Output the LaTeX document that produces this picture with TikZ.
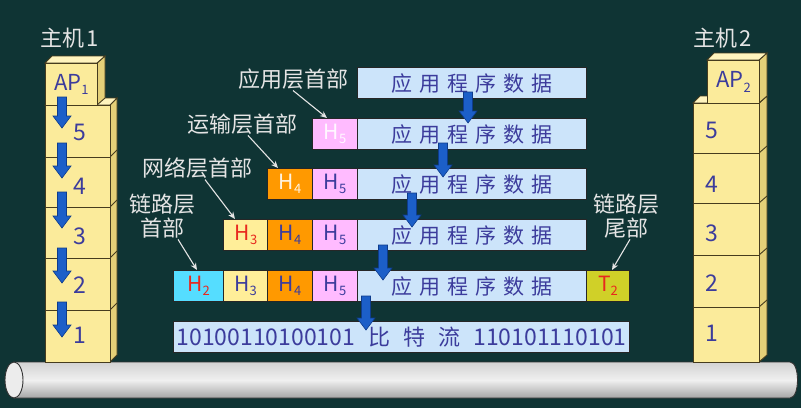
\documentclass[tikz,border=0pt]{standalone}
\usepackage{fontspec}
\setmainfont{Noto Sans CJK SC}
\usetikzlibrary{calc,arrows.meta}
\definecolor{bgc}{RGB}{15,52,52}
\definecolor{labc}{RGB}{228,228,228}
\definecolor{txtc}{RGB}{60,60,156}
\definecolor{datafill}{RGB}{204,228,250}
\definecolor{hfivefill}{RGB}{255,187,255}
\definecolor{hfourfill}{RGB}{255,153,0}
\definecolor{hthreefill}{RGB}{255,238,153}
\definecolor{htwofill}{RGB}{85,221,255}
\definecolor{ttwofill}{RGB}{208,208,40}
\definecolor{stackf}{RGB}{251,235,155}
\definecolor{stacks}{RGB}{228,208,120}
\definecolor{stackt}{RGB}{255,244,190}
\definecolor{stackl}{RGB}{70,60,30}
\definecolor{arrowc}{RGB}{28,95,200}
\definecolor{arrowd}{RGB}{14,60,140}
\definecolor{redt}{RGB}{232,40,30}
\newcommand\fsz[1]{\fontsize{#1pt}{#1pt}\selectfont}
\newcommand\twofont{\fontsize{22pt}{24pt}\selectfont}
\newcommand\lsub[1]{\raisebox{-0.35ex}{\fsz{13}#1}}
\newcommand\appdata{应\hspace{7pt}用\hspace{7pt}程\hspace{7pt}序\hspace{7pt}数\hspace{7pt}据}
\newcommand\bluedown[3]{\filldraw[barrow] (#1-4.5,#2) -- (#1+4.5,#2) -- (#1+4.5,#3-12) -- (#1+9,#3-12) -- (#1,#3) -- (#1-9,#3-12) -- (#1-4.5,#3-12) -- cycle;}
\begin{document}
\begin{tikzpicture}[x=1pt,y=-1pt,
  cell/.style={draw=black!85, line width=1.1pt, inner sep=0pt, minimum height=31pt, anchor=north west, font=\fsz{21}, text=txtc},
  datacell/.style={cell, fill=datafill, minimum width=229pt},
  hcell/.style={cell, minimum width=45pt},
  lab/.style={text=labc, font=\fsz{22}, inner sep=1pt, align=center},
  lab2/.style={text=labc, font=\twofont, inner sep=1pt, align=center},
  lblarrow/.style={draw=labc, line width=1.1pt, -{Stealth[length=7pt,width=6pt]}},
  barrow/.style={fill=arrowc, draw=arrowd, line width=0.6pt},
  front/.style={fill=stackf, draw=stackl, line width=0.9pt},
  side/.style={fill=stacks, draw=stackl, line width=0.9pt},
  topf/.style={fill=stackt, draw=stackl, line width=0.9pt},
  num/.style={text=txtc, font=\fsz{23}, inner sep=0pt}
]
\useasboundingbox (0,0) rectangle (801,408);
\fill[bgc] (0,0) rectangle (801,408);

% cable
\shade[top color=gray!35, bottom color=gray!70, middle color=gray!12, draw=gray!40!black, line width=0.9pt]
  (14,362) -- (790,362) .. controls (800,362) and (800,398) .. (790,398) -- (14,398) -- cycle;
\filldraw[fill=gray!15, draw=gray!40!black, line width=0.9pt] (14,380) ellipse[x radius=9, y radius=18];

% host 1 stack
\filldraw[side] (110,105) -- (117,98) -- (117,355) -- (110,362) -- cycle;
\foreach \yy in {157,207,258,310} \draw[stackl, line width=0.9pt] (110,\yy) -- (117,\yy-7);
\filldraw[topf] (45,105) -- (52,98) -- (117,98) -- (110,105) -- cycle;
\node[front, minimum width=65pt, minimum height=52pt, anchor=north west, inner sep=0] (aL5) at (45,105) {};
\node[front, minimum width=65pt, minimum height=50pt, anchor=north west, inner sep=0] (aL4) at (45,157) {};
\node[front, minimum width=65pt, minimum height=51pt, anchor=north west, inner sep=0] (aL3) at (45,207) {};
\node[front, minimum width=65pt, minimum height=52pt, anchor=north west, inner sep=0] (aL2) at (45,258) {};
\node[front, minimum width=65pt, minimum height=52pt, anchor=north west, inner sep=0] (aL1) at (45,310) {};
\filldraw[side] (97,105) -- (105,98) -- (105,56) -- (97,63) -- cycle;
\filldraw[topf] (45,63) -- (52,56) -- (105,56) -- (97,63) -- cycle;
\node[front, minimum width=52pt, minimum height=42pt, anchor=north west, inner sep=0,
  text=txtc, font=\fsz{22}] (ap1) at (45,63) {AP\lsub{1}};
\node[num] (n15) at (80,132) {5};
\node[num] (n14) at (80,186) {4};
\node[num] (n13) at (80,236) {3};
\node[num] (n12) at (80,285) {2};
\node[num] (n11) at (80,335) {1};
\bluedown{62}{97}{128}
\bluedown{62}{143}{178}
\bluedown{62}{192}{228}
\bluedown{62}{248}{283}
\bluedown{62}{302}{337}
\node[lab] (host1) at (70,38) {主机\hspace{2pt}1};

% host 2 stack
\filldraw[side] (759,103) -- (767,96) -- (767,355) -- (759,362) -- cycle;
\foreach \yy in {153,203,255,307} \draw[stackl, line width=0.9pt] (759,\yy) -- (767,\yy-7);
\filldraw[topf] (693,103) -- (700,96) -- (767,96) -- (759,103) -- cycle;
\node[front, minimum width=66pt, minimum height=50pt, anchor=north west, inner sep=0] (bL5) at (693,103) {};
\node[front, minimum width=66pt, minimum height=50pt, anchor=north west, inner sep=0] (bL4) at (693,153) {};
\node[front, minimum width=66pt, minimum height=52pt, anchor=north west, inner sep=0] (bL3) at (693,203) {};
\node[front, minimum width=66pt, minimum height=52pt, anchor=north west, inner sep=0] (bL2) at (693,255) {};
\node[front, minimum width=66pt, minimum height=55pt, anchor=north west, inner sep=0] (bL1) at (693,307) {};
\filldraw[side] (759,103) -- (767,96) -- (767,53) -- (759,60) -- cycle;
\filldraw[topf] (707,60) -- (714,53) -- (767,53) -- (759,60) -- cycle;
\node[front, minimum width=52pt, minimum height=43pt, anchor=north west, inner sep=0,
  text=txtc, font=\fsz{22}] (ap2) at (707,60) {AP\lsub{2}};
\node[num] (n25) at (712,130) {5};
\node[num] (n24) at (712,184) {4};
\node[num] (n23) at (712,233) {3};
\node[num] (n22) at (712,283) {2};
\node[num] (n21) at (712,333) {1};
\node[lab] (host2) at (723,38) {主机\hspace{2pt}2};

% packets
\node[datacell] (d1) at (357,67) {\appdata};

\node[hcell, fill=hfivefill, text=white!90!hfivefill] (h5a) at (312,118) {H\lsub{5}};
\node[datacell] (d2) at (357,118) {\appdata};

\node[hcell, fill=hfourfill, text=white!88!hfourfill] (h4b) at (267,168) {H\lsub{4}};
\node[hcell, fill=hfivefill] (h5b) at (312,168) {H\lsub{5}};
\node[datacell] (d3) at (357,168) {\appdata};

\node[hcell, fill=hthreefill, text=redt] (h3c) at (223,219) {H\lsub{3}};
\node[hcell, fill=hfourfill] (h4c) at (267,219) {H\lsub{4}};
\node[hcell, fill=hfivefill] (h5c) at (312,219) {H\lsub{5}};
\node[datacell] (d4) at (357,219) {\appdata};

\node[hcell, fill=htwofill, text=redt, minimum width=50pt] (h2d) at (173,270) {H\lsub{2}};
\node[hcell, fill=hthreefill, minimum width=44pt] (h3d) at (223,270) {H\lsub{3}};
\node[hcell, fill=hfourfill] (h4d) at (267,270) {H\lsub{4}};
\node[hcell, fill=hfivefill] (h5d) at (312,270) {H\lsub{5}};
\node[datacell] (d5) at (357,270) {\appdata};
\node[hcell, fill=ttwofill, text=redt, minimum width=43pt] (t2) at (586,270) {T\lsub{2}};

\node[cell, fill=datafill, minimum width=456pt] (bits) at (173,321)
  {\makebox[450pt][s]{\fsz{23}10100110100101\hfill\fsz{22}比\hfill 特\hfill 流\hfill\fsz{23}110101110101}};

\bluedown{468}{92}{123}
\bluedown{443}{143}{177}
\bluedown{412}{193}{227}
\bluedown{383}{245}{280}
\bluedown{366}{296}{330}

% labels
\node[lab] (l5) at (293,79) {应用层首部};
\node[lab] (l4) at (242,124) {运输层首部};
\node[lab] (l3) at (197,168) {网络层首部};
\node[lab2] (l2) at (162,216) {链路层\\首部};
\node[lab2] (lt) at (626,216) {链路层\\尾部};
\draw[lblarrow] (l5.south) -- ([xshift=15pt]h5a.north west);
\draw[lblarrow] ([xshift=6pt]l4.south) -- ([xshift=11pt]h4b.north west);
\draw[lblarrow] ([xshift=8pt]l3.south) -- ([xshift=12pt]h3c.north west);
\draw[lblarrow] ([xshift=16pt]l2.south) -- ([xshift=24pt]h2d.north west);
\draw[lblarrow] ([xshift=4pt]lt.south) -- ([xshift=26pt]t2.north west);
\end{tikzpicture}
\end{document}
